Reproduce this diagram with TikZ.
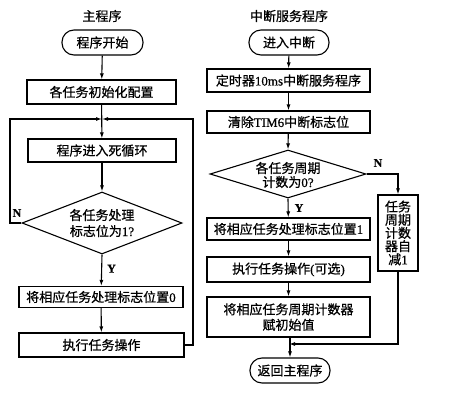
\documentclass[tikz,border=0pt]{standalone}
\usepackage{fontspec}
\setmainfont{Liberation Serif}[FakeBold=0.6]
\newfontfamily\cjk{Noto Sans CJK SC}[FakeBold=0.7]
\usetikzlibrary{shapes.geometric,arrows.meta}
\begin{document}
\begin{tikzpicture}[x=1pt,y=-1pt,
  every node/.style={font=\cjk\fontsize{13}{15}\selectfont, inner sep=0pt},
  box/.style={draw, line width=1.1pt, rectangle, align=center},
  term/.style={draw, line width=1.1pt, rectangle, rounded corners=12pt, minimum width=80pt, minimum height=25pt},
  dia/.style={draw, line width=1.1pt, diamond, inner sep=0pt},
  lbl/.style={font=\rmfamily\bfseries\fontsize{12}{14}\selectfont},
  conn/.style={line width=1.1pt},
  arr/.style={line width=1.1pt, -{Latex[length=6pt,width=4pt]}}
]
\useasboundingbox (0,0) rectangle (451,402);

% ---------- Main program ----------
\node (t1) at (102,16) {主程序};
\node[term, minimum width=81pt] (start) at (102.5,42.5) {程序开始};
\node[box, minimum width=149pt, minimum height=24pt] (init) at (101.5,92) {各任务初始化配置};
\coordinate (jn) at (102,119);
\node[box, minimum width=148pt, minimum height=23pt] (loop) at (102,150.5) {程序进入死循环};
\node[dia, minimum width=160pt, minimum height=62pt] (d1) at (102,223) {};
\node[align=center, font=\cjk\fontsize{13}{16}\selectfont] (d1t) at (102,223) {各任务处理\\标志位为{\rmfamily 1?}};
\node[box, minimum width=164pt, minimum height=21pt] (flag0) at (101,297) {将相应任务处理标志位置{\rmfamily 0}};
\node[box, minimum width=165pt, minimum height=24pt] (exec) at (101.5,345) {执行任务操作};
\coordinate (lt) at (10,119);
\coordinate (lb) at (10,223);
\coordinate (rt) at (193,119);
\coordinate (rb) at (193,345);

\draw[arr] (start) -- (init);
\draw[arr] (init) -- (loop);
\draw[arr] (loop) -- (d1.north);
\draw[arr] (d1.south) -- node[lbl, right=5pt, pos=0.45] (y1) {Y} (flag0);
\draw[arr] (flag0) -- (exec);
\draw[arr] (exec.east) -- (rb) -- (rt) -- (jn);
\draw[arr] (d1.west) -- (lb) -- (lt) -- (jn);
\node[lbl] (n1) at (17,213) {N};

% ---------- Interrupt service ----------
\node (t2) at (289,16) {中断服务程序};
\node[term, minimum width=80pt] (enter) at (289,42.5) {进入中断};
\node[box, minimum width=163pt, minimum height=23pt] (timer) at (288.5,80.5) {定时器{\rmfamily 10ms}中断服务程序};
\node[box, minimum width=163pt, minimum height=22pt] (clear) at (288.5,122) {清除{\rmfamily TIM6}中断标志位};
\node[dia, minimum width=156pt, minimum height=48pt] (d2) at (288,174) {};
\node[align=center, font=\cjk\fontsize{13}{14}\selectfont] (d2t) at (288,175) {各任务周期\\计数为{\rmfamily 0?}};
\node[box, minimum width=163pt, minimum height=22pt] (flag1) at (288.5,229) {将相应任务处理标志位置{\rmfamily 1}};
\node[box, minimum width=163pt, minimum height=25pt] (opt) at (288.5,269.5) {执行任务操作{\rmfamily (}可选{\rmfamily )}};
\node[box, minimum width=163pt, minimum height=40pt, font=\cjk\fontsize{13}{15.5}\selectfont] (reinit) at (288.5,317) {将相应任务周期计数器\\赋初始值};
\node[term, minimum width=80pt] (ret) at (290,370.5) {返回主程序};
\node[box, minimum width=40pt, minimum height=76pt, font=\cjk\fontsize{13}{13.2}\selectfont] (dec) at (398,233) {任务\\周期\\计数\\器自\\减{\rmfamily 1}};
\coordinate (nr) at (398,174);
\coordinate (mr) at (398,344);
\coordinate (ml) at (289,344);

\draw[arr] (enter) -- (timer);
\draw[arr] (timer) -- (clear);
\draw[arr] (clear) -- (d2.north);
\draw[arr] (d2.south) -- node[lbl, right=6pt, pos=0.5] (y2) {Y} (flag1);
\draw[arr] (flag1) -- (opt);
\draw[arr] (opt) -- (reinit);
\draw[arr] (reinit.south -| ret) -- (ret);
\draw[arr] (d2.east) -- (nr) -- (dec.north);
\draw[arr] (dec.south) -- (mr) -- (ml);
\node[lbl] (n2) at (378,163) {N};
\end{tikzpicture}
\end{document}
